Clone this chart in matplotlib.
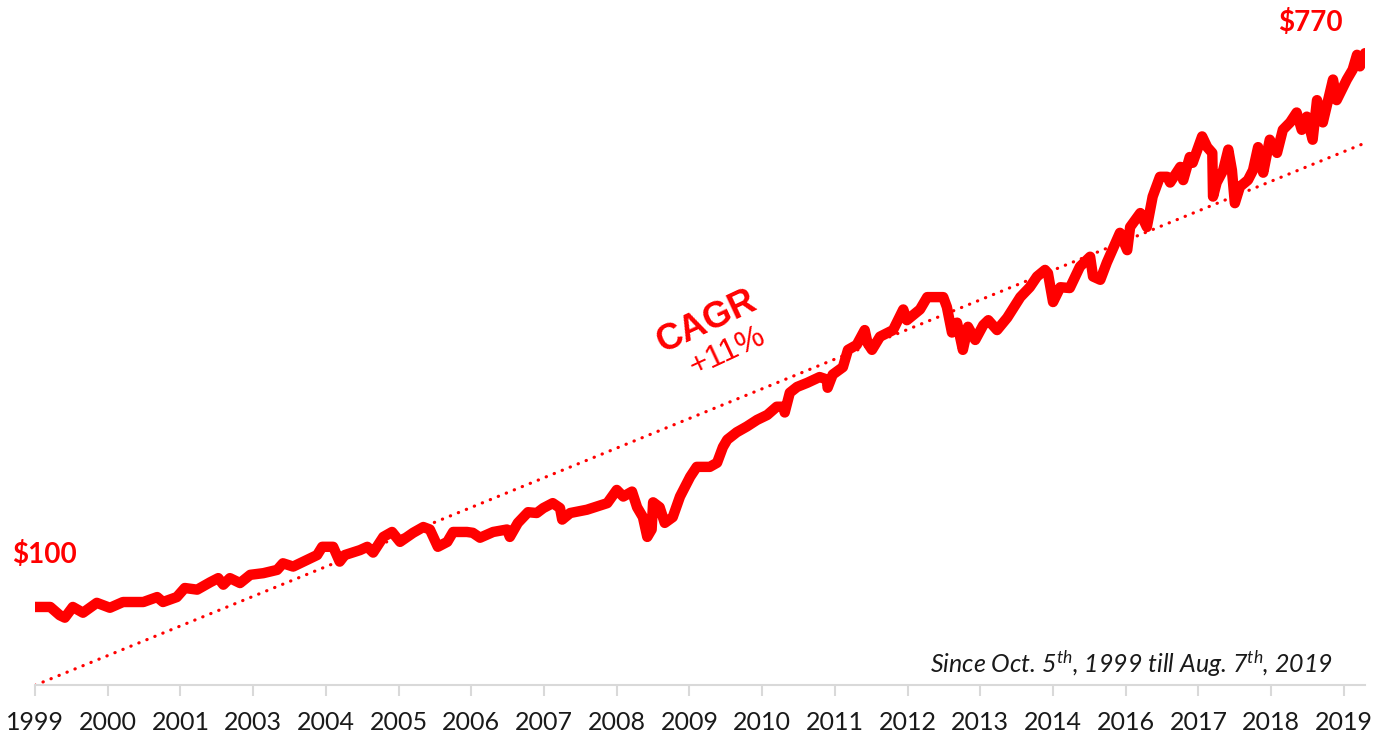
import matplotlib.pyplot as plt

plt.rcParams['font.family'] = ['Lato', 'DejaVu Sans']
plt.rcParams['mathtext.fontset'] = 'custom'
plt.rcParams['mathtext.it'] = 'Lato:italic'
plt.rcParams['mathtext.rm'] = 'Lato:italic'

# category axis labels (the source sheet skips 2002 and 2015)
year_labels = ['1999', '2000', '2001', '2003', '2004', '2005', '2006', '2007',
               '2008', '2009', '2010', '2011', '2012', '2013', '2014', '2016',
               '2017', '2018', '2019']

# position along the category axis (in label steps) and growth of $100
pos = [0, 0.21, 0.34, 0.41, 0.52, 0.66, 0.85, 1.03, 1.21, 1.49, 1.68, 1.76,
       1.95, 2.06, 2.23, 2.41, 2.52, 2.59, 2.68, 2.82, 2.96, 3.14, 3.33, 3.41,
       3.55, 3.74, 3.88, 3.95, 4.10, 4.19, 4.26, 4.47, 4.57, 4.65, 4.79, 4.91,
       5.02, 5.20, 5.34, 5.43, 5.54, 5.67, 5.75, 5.94, 6.02, 6.12, 6.30, 6.49,
       6.53, 6.64, 6.78, 6.90, 6.99, 7.12, 7.22, 7.25, 7.36, 7.59, 7.87, 8.00,
       8.09, 8.21, 8.28, 8.36, 8.42, 8.48, 8.50, 8.59, 8.66, 8.77, 8.87, 9.01,
       9.10, 9.28, 9.38, 9.46, 9.52, 9.65, 9.79, 9.93, 10.07, 10.20, 10.29,
       10.31, 10.38, 10.48, 10.62, 10.79, 10.89, 10.90, 10.97, 11.11, 11.18,
       11.30, 11.41, 11.45, 11.51, 11.62, 11.80, 11.94, 11.99, 12.17, 12.27,
       12.49, 12.54, 12.61, 12.68, 12.76, 12.83, 12.93, 13.04, 13.11, 13.23,
       13.37, 13.55, 13.68, 13.78, 13.89, 13.93, 14.00, 14.10, 14.23, 14.37,
       14.51, 14.55, 14.65, 14.74, 14.92, 15.02, 15.06, 15.20, 15.29, 15.37,
       15.47, 15.57, 15.61, 15.75, 15.79, 15.88, 15.92, 16.05, 16.12, 16.19,
       16.20, 16.25, 16.34, 16.41, 16.46, 16.50, 16.57, 16.68, 16.75, 16.82,
       16.89, 16.98, 17.08, 17.16, 17.26, 17.35, 17.42, 17.49, 17.57, 17.63,
       17.71, 17.85, 17.90, 18.04, 18.12, 18.18, 18.22, 18.29]
value = [100, 100, 90, 87, 100, 93, 105, 99, 106, 106, 112, 106, 112, 123,
         121, 130, 135, 127, 135, 129, 139, 141, 145, 153, 149, 157, 163, 173,
         173, 155, 163, 169, 173, 166, 185, 191, 179, 190, 197, 194, 173, 179,
         191, 191, 190, 184, 191, 194, 185, 202, 215, 214, 220, 226, 220, 206,
         214, 218, 226, 242, 234, 240, 221, 209, 185, 194, 227, 221, 202, 209,
         234, 258, 270, 270, 275, 294, 303, 312, 319, 327, 333, 343, 343, 336,
         360, 367, 372, 379, 376, 366, 382, 391, 412, 418, 436, 420, 412, 428,
         436, 461, 448, 461, 476, 476, 464, 433, 445, 412, 440, 424, 442, 448,
         436, 451, 476, 488, 501, 509, 505, 470, 488, 487, 513, 525, 501, 497,
         518, 554, 533, 561, 578, 561, 598, 622, 622, 615, 634, 618, 646, 639,
         671, 658, 651, 598, 615, 630, 655, 630, 590, 610, 618, 630, 658, 627,
         667, 651, 679, 688, 700, 679, 695, 667, 715, 688, 740, 715, 740, 752,
         770, 756, 772]

# linear trend (Excel style) end points
trend_pos = [0, 18.29]
trend_value = [5, 663]

red = '#ff0000'

fig = plt.figure(figsize=(13.89, 7.35), dpi=100)
ax = fig.add_axes([35 / 1389, 50 / 735, 1330 / 1389, 645 / 735])

ax.plot(pos, value, color=red, lw=7.5, solid_joinstyle='round',
        solid_capstyle='round')
ax.plot(trend_pos, trend_value, color=red, lw=2.3,
        linestyle=(0, (0.1, 2.6)), dash_capstyle='round')

ax.set_xlim(0, 18.29)
ax.set_ylim(5.3, 788)
ax.set_xticks(range(len(year_labels)))
ax.set_xticklabels(year_labels, fontsize=18, color='#1a1a1a')
ax.set_yticks([])
for side in ['left', 'right', 'top']:
    ax.spines[side].set_visible(False)
ax.spines['bottom'].set_color('#d9d9d9')
ax.spines['bottom'].set_linewidth(1.5)
ax.tick_params(axis='x', direction='out', length=8, width=1.5,
               color='#d9d9d9', pad=11)

# start / end labels
ax.annotate('$100', xy=(pos[0], value[0]), xytext=(-23, 52),
            textcoords='offset pixels', fontsize=20, fontweight='bold',
            color=red, ha='left', va='center', annotation_clip=False)
ax.annotate('$770', xy=(pos[-1], value[-1]), xytext=(-55, 31),
            textcoords='offset pixels', fontsize=20, fontweight='bold',
            color=red, ha='center', va='center', annotation_clip=False)

ax.text(9.24, 446, 'CAGR', fontsize=26, fontweight='bold', color=red,
        family='Liberation Sans', rotation=25, ha='center', va='center',
        rotation_mode='anchor')
ax.text(9.52, 410, '+11%', fontsize=23, color=red, family='Liberation Sans',
        rotation=25, ha='center', va='center', rotation_mode='anchor')

ax.text(0.976, 0.019,
        'Since Oct. 5$^{th}$, 1999 till Aug. 7$^{th}$, 2019',
        transform=ax.transAxes, fontsize=18, style='italic', ha='right',
        va='baseline', color='#1a1a1a')

fig.savefig('out.png', dpi=100)
